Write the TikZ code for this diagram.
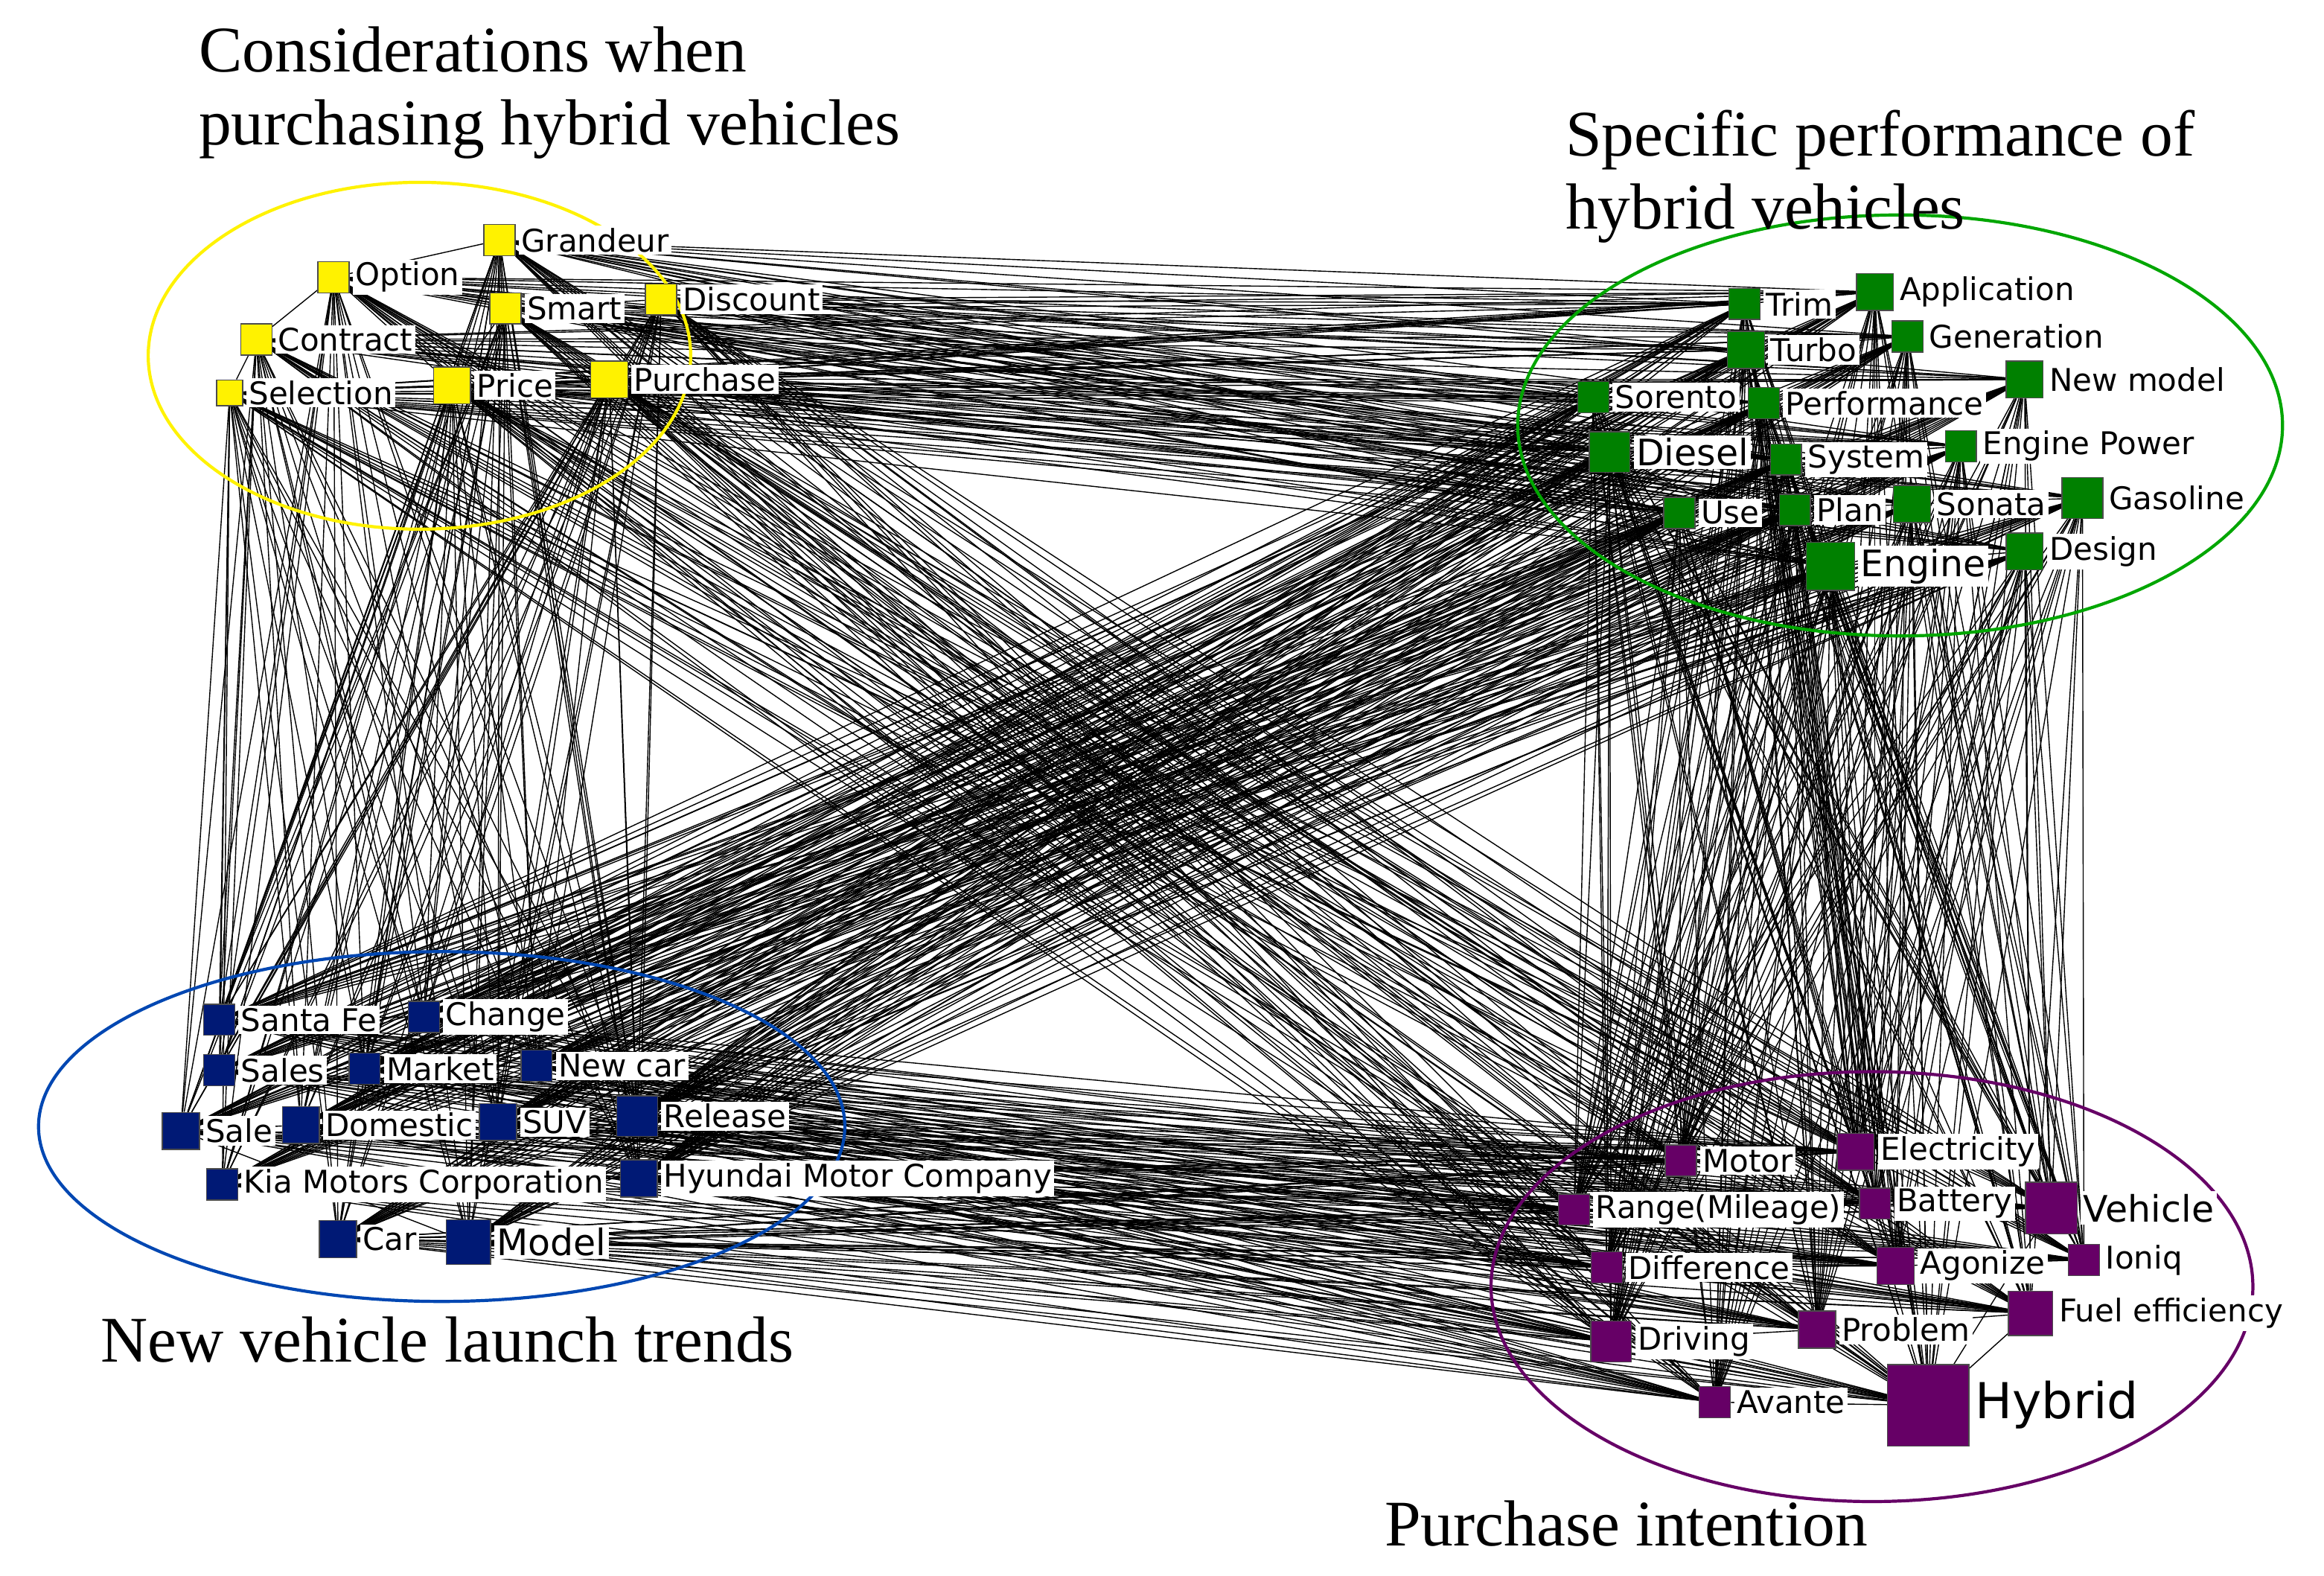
\documentclass[tikz,border=0pt]{standalone}
\usepackage{fontspec}
\setmainfont{Liberation Serif}
\newfontfamily\lblfont{DejaVu Sans}
\usetikzlibrary{positioning, backgrounds}
\tikzset{x=0.2mm, y=-0.2mm,
         sq/.style={draw=black!70, inner sep=0pt, minimum size=4.2mm},
         lbl/.style={fill=white, inner sep=1pt, font=\lblfont\fontsize{12}{13}\selectfont},
         big/.style={font=\lblfont\fontsize{14}{15}\selectfont},
         ysq/.style={sq, fill=yellow},
         gsq/.style={sq, fill=green!50!black},
         bsq/.style={sq, fill=blue!40!black!90!cyan},
         psq/.style={sq, fill=violet!80!black},
         link/.style={black, line width=0.35pt},
         title/.style={font=\fontsize{25}{28}\selectfont, align=left, anchor=north west},
         }

\begin{document}
\begin{tikzpicture}
    \useasboundingbox (0,0) rectangle (1568,1063);

    % group outlines
    \draw[yellow, line width=1.2pt] (283,240) ellipse [x radius=183, y radius=117];
    \draw[green!65!black, line width=1.2pt] (1282,287) ellipse [x radius=258, y radius=142];
    \draw[blue!60!cyan!70!black, line width=1.2pt] (298,760) ellipse [x radius=272, y radius=118];
    \draw[violet!80!black, line width=1.2pt] (1263,868) ellipse [x radius=257, y radius=145];

    % considerations
    \node[ysq] (y1) at (337,162) {};  \node[lbl, right=1pt of y1] (ly1) {Grandeur};
    \node[ysq] (y2) at (225,187) {};  \node[lbl, right=1pt of y2] (ly2) {Option};
    \node[ysq] (y3) at (341,208) {};  \node[lbl, right=1pt of y3] (ly3) {Smart};
    \node[ysq] (y4) at (446,202) {};  \node[lbl, right=1pt of y4] (ly4) {Discount};
    \node[ysq] (y5) at (173,229) {};  \node[lbl, right=1pt of y5] (ly5) {Contract};
    \node[ysq, minimum size=3.5mm] (y6) at (155,265) {}; \node[lbl, right=1pt of y6] (ly6) {Selection};
    \node[ysq, minimum size=5mm] (y7) at (305,260) {};  \node[lbl, right=1pt of y7] (ly7) {Price};
    \node[ysq, minimum size=5mm] (y8) at (411,256) {};  \node[lbl, right=1pt of y8] (ly8) {Purchase};

    % performance
    \node[gsq] (g1) at (1177,205) {};  \node[lbl, right=1pt of g1] (lg1) {Trim};
    \node[gsq, minimum size=5mm] (g2) at (1265,197) {};  \node[lbl, right=1pt of g2] (lg2) {Application};
    \node[gsq, minimum size=5mm] (g3) at (1178,236) {};  \node[lbl, right=1pt of g3] (lg3) {Turbo};
    \node[gsq] (g4) at (1287,227) {};  \node[lbl, right=1pt of g4] (lg4) {Generation};
    \node[gsq, minimum size=5mm] (g5) at (1366,256) {};  \node[lbl, right=1pt of g5] (lg5) {New model};
    \node[gsq] (g6) at (1075,268) {};  \node[lbl, right=1pt of g6] (lg6) {Sorento};
    \node[gsq] (g7) at (1190,272) {};  \node[lbl, right=1pt of g7] (lg7) {Performance};
    \node[gsq, minimum size=5.5mm] (g8) at (1086,305) {};  \node[lbl, big, right=1pt of g8] (lg8) {Diesel};
    \node[gsq] (g9) at (1205,310) {};  \node[lbl, right=1pt of g9] (lg9) {System};
    \node[gsq] (g10) at (1323,301) {}; \node[lbl, right=1pt of g10] (lg10) {Engine Power};
    \node[gsq, minimum size=5.5mm] (g11) at (1405,336) {}; \node[lbl, right=1pt of g11] (lg11) {Gasoline};
    \node[gsq] (g12) at (1133,346) {}; \node[lbl, right=1pt of g12] (lg12) {Use};
    \node[gsq] (g13) at (1211,344) {}; \node[lbl, right=1pt of g13] (lg13) {Plan};
    \node[gsq, minimum size=5mm] (g14) at (1290,340) {}; \node[lbl, right=1pt of g14] (lg14) {Sonata};
    \node[gsq, minimum size=6.5mm] (g15) at (1235,382) {}; \node[lbl, big, right=1pt of g15] (lg15) {Engine};
    \node[gsq, minimum size=5mm] (g16) at (1366,372) {}; \node[lbl, right=1pt of g16] (lg16) {Design};

    % launch trends
    \node[bsq] (b1) at (148,688) {};   \node[lbl, right=1pt of b1] (lb1) {Santa Fe};
    \node[bsq] (b2) at (286,686) {};   \node[lbl, right=1pt of b2] (lb2) {Change};
    \node[bsq] (b3) at (148,722) {};   \node[lbl, right=1pt of b3] (lb3) {Sales};
    \node[bsq] (b4) at (246,721) {};   \node[lbl, right=1pt of b4] (lb4) {Market};
    \node[bsq] (b5) at (362,719) {};   \node[lbl, right=1pt of b5] (lb5) {New car};
    \node[bsq, minimum size=5mm] (b6) at (122,763) {};   \node[lbl, right=1pt of b6] (lb6) {Sale};
    \node[bsq, minimum size=5mm] (b7) at (203,759) {};   \node[lbl, right=1pt of b7] (lb7) {Domestic};
    \node[bsq, minimum size=5mm] (b8) at (336,757) {};   \node[lbl, right=1pt of b8] (lb8) {SUV};
    \node[bsq, minimum size=5.5mm] (b9) at (430,753) {}; \node[lbl, right=1pt of b9] (lb9) {Release};
    \node[bsq] (b10) at (150,799) {};  \node[lbl, right=1pt of b10] (lb10) {Kia Motors Corporation};
    \node[bsq, minimum size=5mm] (b11) at (431,795) {};  \node[lbl, right=1pt of b11] (lb11) {Hyundai Motor Company};
    \node[bsq, minimum size=5mm] (b12) at (228,836) {};  \node[lbl, right=1pt of b12] (lb12) {Car};
    \node[bsq, minimum size=6mm] (b13) at (316,838) {};  \node[lbl, big, right=1pt of b13] (lb13) {Model};

    % purchase intention
    \node[psq] (p1) at (1134,783) {};  \node[lbl, right=1pt of p1] (lp1) {Motor};
    \node[psq, minimum size=5mm] (p2) at (1252,777) {};  \node[lbl, right=1pt of p2] (lp2) {Electricity};
    \node[psq] (p3) at (1062,816) {};  \node[lbl, right=1pt of p3] (lp3) {Range(Mileage)};
    \node[psq] (p4) at (1265,812) {};  \node[lbl, right=1pt of p4] (lp4) {Battery};
    \node[psq, minimum size=7mm] (p5) at (1384,815) {};  \node[lbl, big, right=1pt of p5] (lp5) {Vehicle};
    \node[psq] (p6) at (1084,855) {};  \node[lbl, right=1pt of p6] (lp6) {Difference};
    \node[psq, minimum size=5mm] (p7) at (1279,854) {};  \node[lbl, right=1pt of p7] (lp7) {Agonize};
    \node[psq] (p8) at (1406,850) {};  \node[lbl, right=1pt of p8] (lp8) {Ioniq};
    \node[psq, minimum size=5.5mm] (p9) at (1087,905) {};  \node[lbl, right=1pt of p9] (lp9) {Driving};
    \node[psq, minimum size=5mm] (p10) at (1226,897) {}; \node[lbl, right=1pt of p10] (lp10) {Problem};
    \node[psq, minimum size=6mm] (p11) at (1370,886) {}; \node[lbl, right=1pt of p11] (lp11) {Fuel efficiency};
    \node[psq] (p12) at (1157,946) {}; \node[lbl, right=1pt of p12] (lp12) {Avante};
    \node[psq, minimum size=11mm] (p13) at (1301,948) {}; \node[lbl, right=1pt of p13, font=\lblfont\fontsize{19}{21}\selectfont] (lp13) {Hybrid};

    % links
    \begin{scope}[on background layer, link]
        \foreach \a in {y1,y2,y3,y4,y5,y6,y7,y8}
            \foreach \b in {g1,g2,g3,g4,g5,g6,g7,g8,g9,g10,g11,g12,g13,g14,g15,g16,b1,b2,b3,b4,b5,b6,b7,b8,b9,b10,b11,b12,b13,p1,p2,p3,p4,p5,p6,p7,p8,p9,p10,p11,p12,p13}
                \draw (\a) -- (\b);
        \foreach \a in {g1,g2,g3,g4,g5,g6,g7,g8,g9,g10,g11,g12,g13,g14,g15,g16}
            \foreach \b in {b1,b2,b3,b4,b5,b6,b7,b8,b9,b10,b11,b12,b13,p1,p2,p3,p4,p5,p6,p7,p8,p9,p10,p11,p12,p13}
                \draw (\a) -- (\b);
        \foreach \a in {b1,b2,b3,b4,b5,b6,b7,b8,b9,b10,b11,b12,b13}
            \foreach \b in {p1,p2,p3,p4,p5,p6,p7,p8,p9,p10,p11,p12,p13}
                \draw (\a) -- (\b);
        \foreach \a/\b in {y1/y2,y1/y3,y2/y5,y3/y7,y5/y6,y6/y7,y7/y8,y3/y4,y2/y7,
                           g1/g2,g3/g4,g6/g7,g8/g9,g9/g10,g12/g13,g13/g14,g14/g11,g15/g16,g1/g15,g8/g15,
                           b1/b2,b3/b4,b4/b5,b6/b7,b7/b8,b8/b9,b10/b11,b12/b13,b6/b13,
                           p1/p2,p3/p4,p4/p5,p6/p7,p7/p8,p9/p10,p10/p11,p12/p13,p10/p13,p11/p13,p5/p13}
            \draw (\a) -- (\b);
    \end{scope}

    % titles
    \node[title] (t1) at (128,12) {Considerations when\\purchasing hybrid vehicles};
    \node[title] (t2) at (1050,68) {Specific performance of\\hybrid vehicles};
    \node[title] (t3) at (62,882) {New vehicle launch trends};
    \node[title] (t4) at (928,1006) {Purchase intention};
\end{tikzpicture}
\end{document}
